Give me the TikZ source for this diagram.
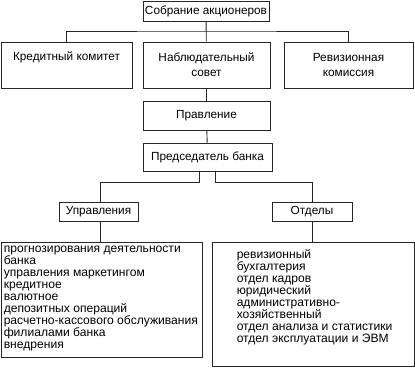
\documentclass[tikz,border=0pt]{standalone}
\usepackage{fontspec}
\setmainfont{Liberation Sans}
\begin{document}
\begin{tikzpicture}[x=1pt,y=-1pt,
  box/.style={draw=black!85,line width=0.9pt,inner sep=0pt,align=center,font=\fontsize{11.8}{15}\selectfont},
  lst/.style={inner sep=0pt,align=left,anchor=north west,font=\fontsize{12.1}{12}\selectfont},
  conn/.style={draw=black!85,line width=0.9pt}]
\useasboundingbox (0,0) rectangle (415,367);
\node[box,minimum width=126pt,minimum height=20pt] (sobr) at (206,11) {Собрание акционеров};
\node[box,minimum width=131pt,minimum height=46pt] (kred) at (66.5,65) {\raisebox{-2pt}{Кредитный комитет}\\\strut};
\node[box,minimum width=127pt,minimum height=46pt] (nab) at (206.5,65) {\raisebox{-2pt}{Наблюдательный}\\\raisebox{-2pt}{совет}};
\node[box,minimum width=129pt,minimum height=46pt] (rev) at (348.5,65) {\raisebox{-2pt}{Ревизионная}\\\raisebox{-2pt}{комиссия}};
\node[box,minimum width=127pt,minimum height=29pt] (prav) at (206.5,115.5) {Правление};
\node[box,minimum width=129pt,minimum height=28pt] (pred) at (207.5,157) {Председатель банка};
\node[box,minimum width=79pt,minimum height=19pt] (upr) at (98.5,211.5) {Управления};
\node[box,minimum width=80pt,minimum height=19pt] (otd) at (312,211.5) {Отделы};
\node[box,minimum width=201pt,minimum height=115pt] (l1) at (101.5,299.5) {};
\node[box,minimum width=202pt,minimum height=124pt] (l2) at (313,304.5) {};
\node[lst] (l1t) at ([shift={(3,4.5)}]l1.north west) {прогнозирования деятельности\\банка\\управления маркетингом\\кредитное\\валютное\\депозитных операций\\расчетно-кассового обслуживания\\филиалами банка\\внедрения};
\node[lst] (l2t) at ([shift={(25,7.5)}]l2.north west) {ревизионный\\бухгалтерия\\отдел кадров\\юридический\\административно-\\хозяйственный\\отдел анализа и статистики\\отдел эксплуатации и ЭВМ};
\coordinate (j1) at (206,31);
\draw[conn] (sobr) -- (nab);
\draw[conn] (kred.north) |- (j1) -| (rev.north);
\draw[conn] (nab) -- (prav);
\draw[conn] (prav) -- (pred);
\draw[conn] ([xshift=-8pt]pred.south) -- ++(0,11) -| ([xshift=1.5pt]upr.north);
\draw[conn] ([xshift=8pt]pred.south) -- ++(0,11) -| (otd.north);
\draw[conn] ([xshift=1.5pt]upr.south) -- ([xshift=1.5pt]upr.south |- l1.north);
\draw[conn] (otd.south) -- (otd.south |- l2.north);
\end{tikzpicture}
\end{document}
